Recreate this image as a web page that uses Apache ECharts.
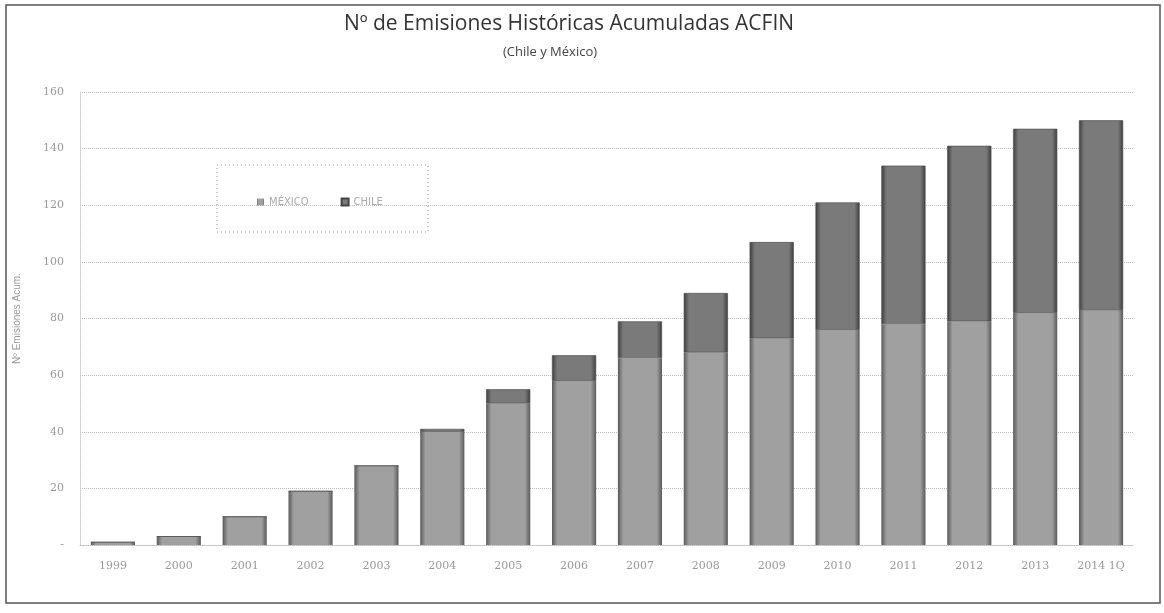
<!DOCTYPE html>
<html>
<head>
<meta charset="utf-8">
<script src="https://cdn.jsdelivr.net/npm/echarts@6/dist/echarts.min.js"></script>
<style>
	html, body { margin: 0; padding: 0; background: #fff; }
	#chart { width: 1164px; height: 613px; }
</style>
</head>
<body>
<div id="chart"></div>
<script>
// datos
var years = ['1999', '2000', '2001', '2002', '2003', '2004', '2005', '2006', '2007', '2008', '2009', '2010', '2011', '2012', '2013', '2014 1Q'];
var mexico = [1, 3, 10, 19, 28, 40, 50, 58, 66, 68, 73, 76, 78, 79, 82, 83];
var chile = [0, 0, 0, 0, 0, 1, 5, 9, 13, 21, 34, 45, 56, 62, 65, 67];
var yTicks = [0, 20, 40, 60, 80, 100, 120, 140, 160];

// degradado horizontal, bordes oscuros
function barColor(edge, mid) {
	return new echarts.graphic.LinearGradient(0, 0, 1, 0, [
		{ offset: 0, color: edge },
		{ offset: 0.12, color: mid },
		{ offset: 0.88, color: mid },
		{ offset: 1, color: edge }
	]);
}

var myChart = echarts.init(document.getElementById('chart'));
var option = {
	backgroundColor: '#fff',
	animation: false,
	title: [{
		text: 'Nº de Emisiones Históricas Acumuladas ACFIN',
		left: 564,
		top: 9,
		textAlign: 'center',
		textStyle: { fontFamily: 'Open Sans', fontSize: 21, fontWeight: 'normal', color: '#333' }
	}, {
		text: '(Chile y México)',
		left: 545,
		top: 41,
		textAlign: 'center',
		textStyle: { fontFamily: 'Open Sans', fontSize: 13, fontWeight: 'normal', color: '#444' }
	}],
	legend: {
		left: 252,
		top: 192,
		itemWidth: 7,
		itemHeight: 7,
		itemGap: 32,
		icon: 'rect',
		textStyle: { fontSize: 10, color: '#aaa', fontFamily: 'DejaVu Sans' },
		data: ['MÉXICO', 'CHILE']
	},
	grid: {
		left: 80,
		right: 30,
		top: 92,
		bottom: 68
	},
	xAxis: {
		type: 'category',
		data: years,
		axisTick: { show: false },
		axisLine: { lineStyle: { color: '#bbb', type: 'dotted' } },
		axisLabel: { color: '#999', fontSize: 11, margin: 16, fontFamily: 'DejaVu Serif' }
	},
	yAxis: {
		type: 'value',
		min: yTicks[0],
		max: yTicks[yTicks.length - 1],
		interval: 20,
		name: 'Nº Emisiones Acum.',
		nameLocation: 'middle',
		nameGap: 58,
		nameTextStyle: { color: '#999', fontSize: 10 },
		axisLine: { show: true, lineStyle: { color: '#ccc', type: 'dotted' } },
		axisTick: { show: false },
		axisLabel: {
			color: '#999',
			fontSize: 11,
			margin: 16,
			fontFamily: 'DejaVu Serif',
			formatter: function(v) {
				return v === 0 ? '-' : v;
			}
		},
		splitLine: { lineStyle: { color: '#bbb', type: 'dotted' } }
	},
	series: [{
		name: 'MÉXICO',
		type: 'bar',
		stack: 'total',
		barCategoryGap: '33%',
		data: mexico,
		itemStyle: { color: barColor('#5a5a5a', '#a0a0a0') }
	}, {
		name: 'CHILE',
		type: 'bar',
		stack: 'total',
		data: chile,
		itemStyle: { color: barColor('#3e3e3e', '#7a7a7a'), borderColor: '#444', borderWidth: 0.6 }
	}],
	graphic: [{
		type: 'rect',
		shape: { x: 6, y: 5, width: 1154, height: 598 },
		style: { fill: null, stroke: '#555', lineWidth: 1.5 },
		silent: true
	}, {
		type: 'rect',
		shape: { x: 217, y: 165, width: 211, height: 67 },
		style: { fill: '#fff', stroke: '#999', lineWidth: 1, lineDash: [1, 3] },
		z: 0,
		silent: true
	}]
};
myChart.setOption(option);
</script>
</body>
</html>
